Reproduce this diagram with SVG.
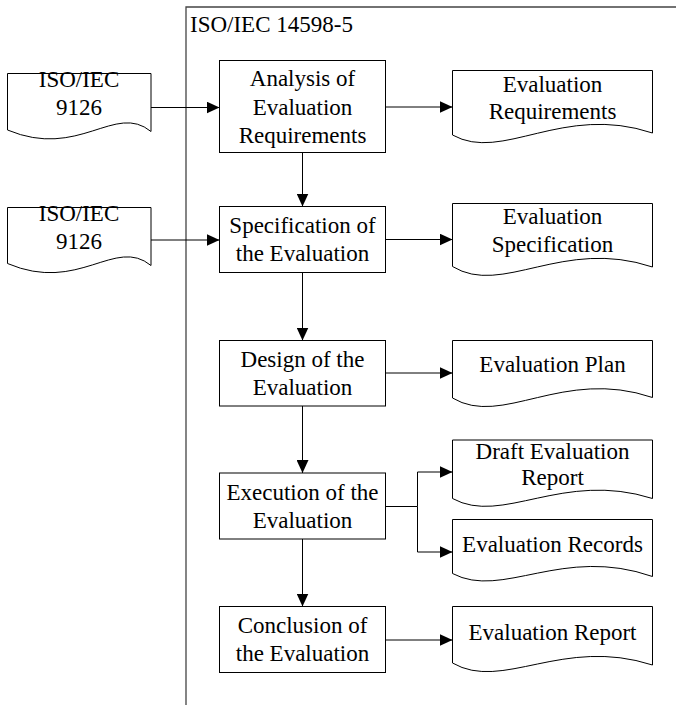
<svg xmlns="http://www.w3.org/2000/svg" width="676" height="705" viewBox="0 0 676 705">
  <style>
    text { font-family: "Liberation Serif", "Times New Roman", serif; font-size: 23px; fill: #000; text-anchor: middle; }
    .box, .doc { fill: #fff; stroke: #000; stroke-width: 1; }
    .frame { fill: none; stroke: #444; stroke-width: 1.3; }
    .link { fill: none; stroke: #000; stroke-width: 1; marker-end: url(#arrow); }
    .plain { fill: none; stroke: #000; stroke-width: 1; }
    .title { text-anchor: start; }
  </style>
  <defs>
    <marker id="arrow" markerUnits="userSpaceOnUse" markerWidth="13" markerHeight="12" refX="13" refY="6" orient="auto">
      <path d="M0,0 L13,6 L0,12 Z" fill="#000"/>
    </marker>
  </defs>

  <!-- standard boundary -->
  <g id="frame">
    <path class="frame" d="M186,705 V7 H676"/>
    <text class="title" x="190" y="32">ISO/IEC 14598-5</text>
  </g>

  <!-- input documents -->
  <g id="in-9126-a">
    <path class="doc" d="M7.5,73.5 H151 V131.5 C115,102 79,160 7.5,130 Z"/>
    <text x="79" y="87">ISO/IEC</text>
    <text x="79" y="115">9126</text>
  </g>
  <g id="in-9126-b">
    <path class="doc" d="M7.5,207.5 H151 V265.5 C115,236 79,294 7.5,263.5 Z"/>
    <text x="79" y="221">ISO/IEC</text>
    <text x="79" y="249">9126</text>
  </g>

  <!-- process steps -->
  <g id="analysis">
    <rect class="box" x="219.5" y="60.5" width="166" height="92"/>
    <text x="302.5" y="86">Analysis of</text>
    <text x="302.5" y="114.5">Evaluation</text>
    <text x="302.5" y="142.5">Requirements</text>
  </g>
  <g id="specification">
    <rect class="box" x="219.5" y="206.5" width="166" height="66"/>
    <text x="302.5" y="232.5">Specification of</text>
    <text x="302.5" y="260.5">the Evaluation</text>
  </g>
  <g id="design">
    <rect class="box" x="219.5" y="340.5" width="166" height="65.5"/>
    <text x="302.5" y="366.5">Design of the</text>
    <text x="302.5" y="394.5">Evaluation</text>
  </g>
  <g id="execution">
    <rect class="box" x="219.5" y="473" width="166" height="66"/>
    <text x="302.5" y="499.5">Execution of the</text>
    <text x="302.5" y="527.5">Evaluation</text>
  </g>
  <g id="conclusion">
    <rect class="box" x="219.5" y="606.5" width="166" height="66"/>
    <text x="302.5" y="633">Conclusion of</text>
    <text x="302.5" y="661">the Evaluation</text>
  </g>

  <!-- output documents -->
  <g id="out-requirements">
    <path class="doc" d="M452.5,70.5 H652.5 V133 C562.5,103 502.5,163 452.5,135 Z"/>
    <text x="552.5" y="92">Evaluation</text>
    <text x="552.5" y="119">Requirements</text>
  </g>
  <g id="out-specification">
    <path class="doc" d="M452.5,203.5 H652.5 V267 C562.5,237 502.5,297 452.5,266.5 Z"/>
    <text x="552.5" y="223.5">Evaluation</text>
    <text x="552.5" y="251.5">Specification</text>
  </g>
  <g id="out-plan">
    <path class="doc" d="M452.5,340.5 H652.5 V397.5 C562.5,367 502.5,428 452.5,398 Z"/>
    <text x="552.5" y="372">Evaluation Plan</text>
  </g>
  <g id="out-draft">
    <path class="doc" d="M452.5,440 H652.5 V498.5 C562.5,470 502.5,526 452.5,498.5 Z"/>
    <text x="552.5" y="458.5">Draft Evaluation</text>
    <text x="552.5" y="485">Report</text>
  </g>
  <g id="out-records">
    <path class="doc" d="M452.5,519.5 H652.5 V576.5 C562.5,545 502.5,600 452.5,573.5 Z"/>
    <text x="552.5" y="552">Evaluation Records</text>
  </g>
  <g id="out-report">
    <path class="doc" d="M452.5,606.5 H652.5 V665 C562.5,636 502.5,692 452.5,663 Z"/>
    <text x="552.5" y="639.5">Evaluation Report</text>
  </g>

  <!-- connectors -->
  <g id="connectors">
    <path class="link" d="M151,107.5 H219.5"/>
    <path class="link" d="M151,240 H219.5"/>
    <path class="link" d="M385.5,107 H452.5"/>
    <path class="link" d="M385.5,239.5 H452.5"/>
    <path class="link" d="M385.5,373 H452.5"/>
    <path class="link" d="M385.5,506.5 H417.5 V472 H452.5"/>
    <path class="link" d="M417.5,506.5 V552 H452.5"/>
    <path class="link" d="M385.5,640 H452.5"/>
    <path class="link" d="M302.5,152.5 V206.5"/>
    <path class="link" d="M302.5,272.5 V340.5"/>
    <path class="link" d="M302.5,406 V473"/>
    <path class="link" d="M302.5,539 V606.5"/>
  </g>
</svg>
